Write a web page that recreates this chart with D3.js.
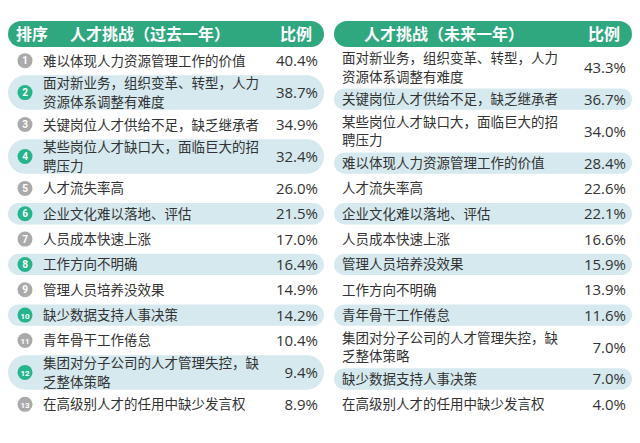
<!DOCTYPE html>
<html><head><meta charset="utf-8">
<script src="https://cdn.jsdelivr.net/npm/d3@7"></script>
<style>body{margin:0;background:#fff}</style></head>
<body><svg id="c" width="640" height="443"></svg>
<script>
const pastLabels=[["难以体现人力资源管理工作的价值"],["面对新业务，组织变革、转型，人力","资源体系调整有难度"],["关键岗位人才供给不足，缺乏继承者"],["某些岗位人才缺口大，面临巨大的招","聘压力"],["人才流失率高"],["企业文化难以落地、评估"],["人员成本快速上涨"],["工作方向不明确"],["管理人员培养没效果"],["缺少数据支持人事决策"],["青年骨干工作倦怠"],["集团对分子公司的人才管理失控，缺","乏整体策略"],["在高级别人才的任用中缺少发言权"]];
const pastValues=[40.4,38.7,34.9,32.4,26.0,21.5,17.0,16.4,14.9,14.2,10.4,9.4,8.9];
const futureLabels=[["面对新业务，组织变革、转型，人力","资源体系调整有难度"],["关键岗位人才供给不足，缺乏继承者"],["某些岗位人才缺口大，面临巨大的招","聘压力"],["难以体现人力资源管理工作的价值"],["人才流失率高"],["企业文化难以落地、评估"],["人员成本快速上涨"],["管理人员培养没效果"],["工作方向不明确"],["青年骨干工作倦怠"],["集团对分子公司的人才管理失控，缺","乏整体策略"],["缺少数据支持人事决策"],["在高级别人才的任用中缺少发言权"]];
const futureValues=[43.3,36.7,34.0,28.4,22.6,22.1,16.6,15.9,13.9,11.6,7.0,7.0,4.0];
const headers=[["排序","人才挑战（过去一年）","比例"],["","人才挑战（未来一年）","比例"]];

const svg=d3.select("#c");
const font="'Noto Sans CJK SC','Noto Sans',sans-serif";
const green="#2fa77f", blue="#d5e9ee";

function table(labels,values,hdr,x0,x1,showRank){
  svg.append("rect").attr("x",x0).attr("y",21).attr("width",x1-x0).attr("height",26).attr("rx",13).attr("fill",green);
  const hy=40;
  if(hdr[0]) svg.append("text").attr("x",x0+8).attr("y",hy).text(hdr[0]).attr("fill","#fff").attr("font-size",16).attr("font-weight","bold").attr("font-family",font);
  svg.append("text").attr("x",showRank?x0+62:x0+30).attr("y",hy).text(hdr[1]).attr("fill","#fff").attr("font-size",16).attr("font-weight","bold").attr("font-family",font);
  svg.append("text").attr("x",x1-12).attr("y",hy).attr("text-anchor","end").text(hdr[2]).attr("fill","#fff").attr("font-size",16).attr("font-weight","bold").attr("font-family",font);
  const h=labels.map(l=>l.length>1?38:25);
  const cum=[0];h.forEach(v=>cum.push(cum[cum.length-1]+v));
  const y=d3.scaleLinear().domain([0,cum[cum.length-1]]).range([48,417]);
  const g=svg.append("g").selectAll("g").data(labels).join("g");
  g.filter((d,i)=>i%2==1).append("rect").attr("x",x0).attr("width",x1-x0).attr("fill",blue);
  g.each(function(d,i){
    const gg=d3.select(this);
    const top=y(cum[i]),bot=y(cum[i+1]),cy=(top+bot)/2;
    gg.select("rect").attr("y",top+2).attr("height",bot-top-4).attr("rx",(bot-top-4)/2);
    if(showRank){
      gg.append("circle").attr("cx",x0+17).attr("cy",cy).attr("r",7.5).attr("fill",i%2?"#26b48a":"#aaaaaa");
      gg.append("text").attr("x",x0+17).attr("y",cy+3.5).attr("text-anchor","middle").text(i+1)
        .attr("fill","#fff").attr("font-size",i>=9?8:10).attr("font-weight","bold").attr("font-family","Roboto,sans-serif");
    }
    const lx=showRank?x0+35:x0+8;
    const n=d.length;
    d.forEach((line,k)=>{
      gg.append("text").attr("x",lx).attr("y",cy+5+(k-(n-1)/2)*18.5).text(line)
        .attr("fill","#333").attr("font-size",13.5).attr("font-family",font);
    });
    gg.append("text").attr("x",x1-6).attr("y",cy+5.5).attr("text-anchor","end").text(values[i].toFixed(1)+"%")
      .attr("fill","#333").attr("font-size",15).attr("font-family","'Open Sans',sans-serif");
  });
}
table(pastLabels,pastValues,headers[0],8,324,true);
table(futureLabels,futureValues,headers[1],334,632,false);
</script></body></html>
